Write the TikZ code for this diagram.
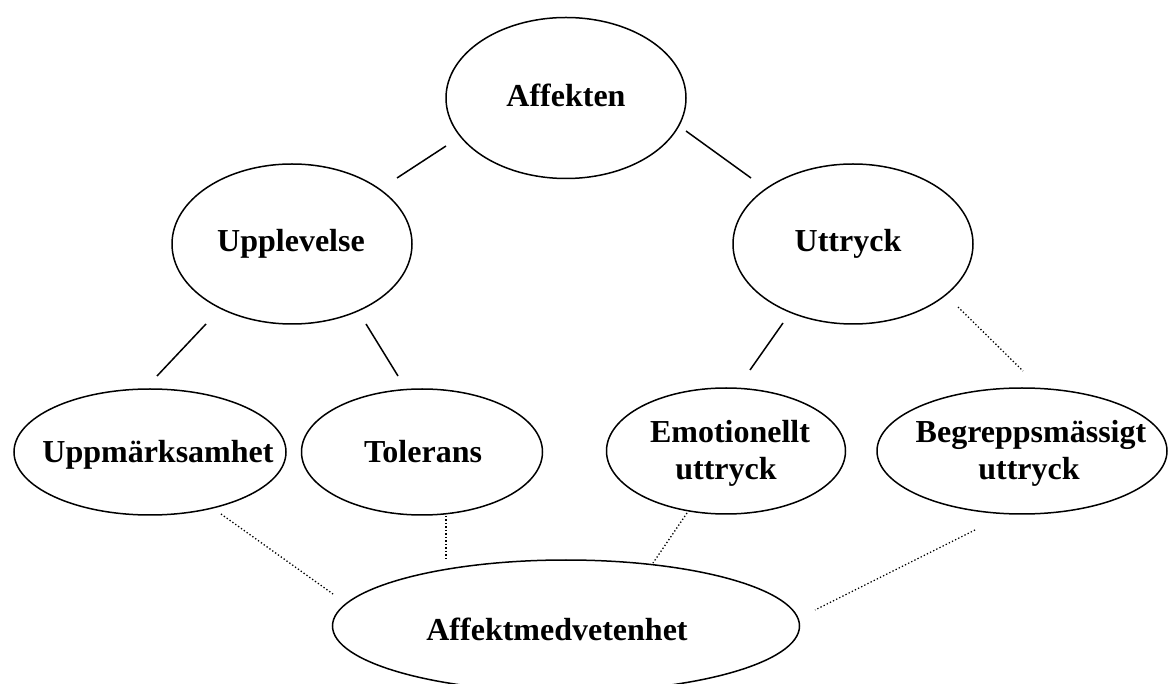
\documentclass[tikz,border=0pt]{standalone}
\usepackage{fontspec}
\setmainfont{Liberation Serif}
\usetikzlibrary{shapes.geometric}
\tikzset{
  ell/.style 2 args={ellipse, draw=black, line width=1.5pt, minimum width=#1, minimum height=#2, inner sep=0pt, outer sep=0pt},
  lbl/.style={anchor=base, inner sep=0pt, font=\fontsize{32}{37}\selectfont\bfseries},
  solidcon/.style={draw=black, line width=1.5pt},
  dotcon/.style={draw=black, line width=1.3pt, dash pattern=on 1.3pt off 2.2pt}
}
\begin{document}
\begin{tikzpicture}[x=1pt,y=-1pt]
\useasboundingbox (0,0) rectangle (1171,684);
\clip (0,0) rectangle (1171,684);
\fill[white] (0,0) rectangle (1171,684);
% ellipses
\node[ell={240}{161}] (aff) at (566,98) {};
\node[ell={240}{160}] (upp) at (292,244) {};
\node[ell={240}{160}] (utt) at (853,244) {};
\node[ell={272}{126}] (uppm) at (150,452) {};
\node[ell={241}{126}] (tol) at (422,452) {};
\node[ell={239}{126}] (emo) at (726,451) {};
\node[ell={290}{126}] (beg) at (1022,451) {};
\node[ell={467}{132}] (amv) at (566,626) {};
% labels
\node[lbl] (affT) at (566,107) {Affekten};
\node[lbl] (uppT) at (291,252) {Upplevelse};
\node[lbl] (uttT) at (848,252) {Uttryck};
\node[lbl] (uppmT) at (158,463) {Uppmärksamhet};
\node[lbl] (tolT) at (423,463) {Tolerans};
\node[lbl] (emoT1) at (730,443) {Emotionellt};
\node[lbl] (emoT2) at (726,480) {uttryck};
\node[lbl] (begT1) at (1031,443) {Begreppsmässigt};
\node[lbl] (begT2) at (1029,480) {uttryck};
\node[lbl] (amvT) at (557,640) {Affektmedvetenhet};
% connector end points
\coordinate (a1) at (446,146); \coordinate (b1) at (397,178);
\coordinate (a2) at (686,131); \coordinate (b2) at (751,178);
\coordinate (a3) at (206,324); \coordinate (b3) at (157,376);
\coordinate (a4) at (366,324); \coordinate (b4) at (398,376);
\coordinate (a5) at (783,323); \coordinate (b5) at (750,370);
\coordinate (a6) at (958,307); \coordinate (b6) at (1023,371);
\coordinate (a7) at (221,514); \coordinate (b7) at (333,594);
\coordinate (a8) at (446,516); \coordinate (b8) at (446,560);
\coordinate (a9) at (687,513); \coordinate (b9) at (653,563);
\coordinate (a10) at (975,530); \coordinate (b10) at (815,610);
% connectors
\draw[solidcon] (a1) -- (b1);
\draw[solidcon] (a2) -- (b2);
\draw[solidcon] (a3) -- (b3);
\draw[solidcon] (a4) -- (b4);
\draw[solidcon] (a5) -- (b5);
\draw[dotcon] (a6) -- (b6);
\draw[dotcon] (a7) -- (b7);
\draw[dotcon] (a8) -- (b8);
\draw[dotcon] (a9) -- (b9);
\draw[dotcon] (a10) -- (b10);
\end{tikzpicture}
\end{document}
